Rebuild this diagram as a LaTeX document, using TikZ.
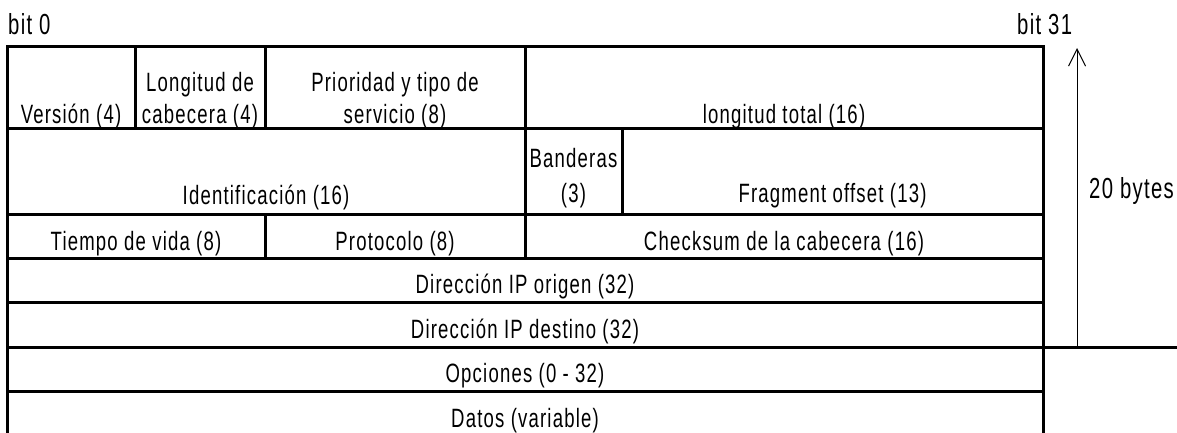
\documentclass[tikz,border=0pt]{standalone}
\usepackage{fontspec}
\setmainfont{Liberation Sans}[FakeStretch=0.7,LetterSpace=4.5]
\usetikzlibrary{arrows.meta}
\begin{document}
\begin{tikzpicture}[x=1pt,y=-1pt,
  frame/.style={line width=3pt,line join=miter},
  lbl/.style={inner sep=0pt,anchor=base,font=\fontsize{26.5}{30}\selectfont},
  lblw/.style={inner sep=0pt,anchor=base west,font=\fontsize{29}{32}\selectfont},
  sizearrow/.style={line width=1pt,-{Straight Barb[length=17pt,width=17pt,line width=1pt]}}]
\useasboundingbox (0,0) rectangle (1177,432);
% frame
\draw[frame] (7,440) -- (7,46) -- (1043,46) -- (1043,440);
\foreach \yy in {128,214,258,302,391}{\draw[frame] (7,\yy) -- (1043,\yy);}
\draw[frame] (7,347) -- (1177,347);
\draw[frame] (135,46) -- (135,128);
\draw[frame] (265,46) -- (265,128);
\draw[frame] (265,214) -- (265,258);
\draw[frame] (525,46) -- (525,258);
\draw[frame] (622,128) -- (622,214);
% labels outside
\node[lblw] (bit0) at (8,34) {bit 0};
\node[lblw] (bit31) at (1017,34) {bit 31};
\node[lblw] (bytes) at (1089,198) {20 bytes};
\coordinate (arrowbot) at (1077,347);
\coordinate (arrowtop) at (1077,48);
\draw[sizearrow] (arrowbot) -- (arrowtop);
% row 1
\node[lbl] (version) at (71,123) {Versión (4)};
\node[lbl] (lon1) at (200,91) {Longitud de};
\node[lbl] (lon2) at (200,123) {cabecera (4)};
\node[lbl] (pri1) at (395,91) {Prioridad y tipo de};
\node[lbl] (pri2) at (395,123) {servicio (8)};
\node[lbl] (ltot) at (784,123) {longitud total (16)};
% row 2
\node[lbl] (ident) at (266,204) {Identificación (16)};
\node[lbl] (band1) at (573.5,167) {Banderas};
\node[lbl] (band2) at (573.5,202) {(3)};
\node[lbl] (frag) at (832.5,202) {Fragment offset (13)};
% row 3
\node[lbl] (tiempo) at (136,250) {Tiempo de vida (8)};
\node[lbl] (proto) at (395,250) {Protocolo (8)};
\node[lbl] (checks) at (784,250) {Checksum de la cabecera (16)};
% rows 4-7
\node[lbl] (origen) at (525,293) {Dirección IP origen (32)};
\node[lbl] (destino) at (525,338) {Dirección IP destino (32)};
\node[lbl] (opc) at (525,382) {Opciones (0 - 32)};
\node[lbl] (datos) at (525,427) {Datos (variable)};
\end{tikzpicture}
\end{document}
